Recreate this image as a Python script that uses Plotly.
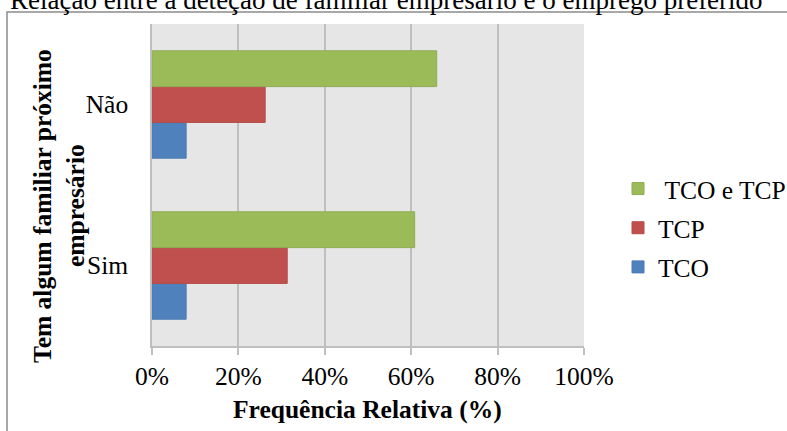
import plotly.graph_objects as go

# data (percentages)
categories = ["Sim", "Não"]
tco = [7.9, 7.9]
tcp = [31.3, 26.2]
tco_tcp = [60.8, 65.9]
x_ticks = [0, 20, 40, 60, 80, 100]
x_labels = ["0%", "20%", "40%", "60%", "80%", "100%"]

SERIF = "Liberation Serif, Times New Roman, serif"
FS = 25.5

fig = go.Figure()
fig.add_trace(go.Bar(y=categories, x=tco, name="TCO", orientation="h",
                     legendgroup="a", legendrank=3,
                     marker=dict(color="#4F81BD", line=dict(color="#4A7AB3", width=1))))
fig.add_trace(go.Bar(y=categories, x=tcp, name="TCP", orientation="h",
                     legendgroup="b", legendrank=2,
                     marker=dict(color="#C0504D", line=dict(color="#B54C49", width=1))))
fig.add_trace(go.Bar(y=categories, x=tco_tcp, name="\u00a0TCO e TCP", orientation="h",
                     legendgroup="c", legendrank=1,
                     marker=dict(color="#9BBB59", line=dict(color="#8FAD52", width=1))))

# pixel -> paper helpers (plot area 152..584 x 24..346)
L, R, T, B = 152, 203, 24, 85
W, H = 787, 431
pw, ph = W - L - R, H - T - B
def px(x): return (x - L) / pw
def py(y): return (H - B - y) / ph

fig.update_layout(
    width=W, height=H,
    margin=dict(l=L, r=R, t=T, b=B, autoexpand=False),
    paper_bgcolor="white", plot_bgcolor="#E6E6E6",
    barmode="group", bargap=0.333, bargroupgap=0,
    font=dict(family=SERIF, size=FS, color="black"),
    showlegend=True,
    legend=dict(x=px(618), y=py(228), xanchor="left", yanchor="middle",
                traceorder="grouped", tracegroupgap=3,
                font=dict(family=SERIF, size=FS, color="black"),
                bgcolor="rgba(0,0,0,0)"),
    xaxis=dict(range=[0, 100], tickvals=x_ticks, ticktext=x_labels,
               showgrid=True, gridcolor="#BFBFBF", gridwidth=1.5,
               showline=True, linecolor="#BFBFBF", linewidth=1.5,
               ticks="outside", ticklen=7, tickcolor="#BFBFBF", tickwidth=1.5,
               zeroline=False, automargin=False,
               tickfont=dict(family=SERIF, size=FS, color="black")),
    yaxis=dict(showgrid=False, showline=True, linecolor="#BFBFBF", linewidth=1.5,
               ticks="", ticklabelstandoff=17, automargin=False,
               tickfont=dict(family=SERIF, size=FS, color="black")),
    shapes=[dict(type="rect", xref="paper", yref="paper",
                 x0=px(7), x1=px(1000), y0=py(700), y1=py(12),
                 line=dict(color="#8C8C8C", width=1.5), layer="below")],
    annotations=[
        dict(text="Relação entre a deteção de familiar empresário e o emprego preferido",
             xref="paper", yref="paper", x=px(8), y=py(0), xanchor="left", yanchor="middle",
             showarrow=False, font=dict(family=SERIF, size=27, color="black")),
        dict(text="<b>Tem algum familiar próximo</b>",
             xref="paper", yref="paper", x=px(42), y=py(206), xanchor="center", yanchor="middle",
             textangle=-90, showarrow=False,
             font=dict(family=SERIF, size=FS, color="black")),
        dict(text="<b>empresário</b>",
             xref="paper", yref="paper", x=px(75), y=py(206), xanchor="center", yanchor="middle",
             textangle=-90, showarrow=False,
             font=dict(family=SERIF, size=FS, color="black")),
        dict(text="<b>Frequência Relativa (%)</b>",
             xref="paper", yref="paper", x=px(367), y=py(409), xanchor="center", yanchor="middle",
             showarrow=False, font=dict(family=SERIF, size=FS, color="black")),
    ],
)

fig.write_html("out.html", config={"displayModeBar": False},
               post_script="document.body.style.margin='0';")
